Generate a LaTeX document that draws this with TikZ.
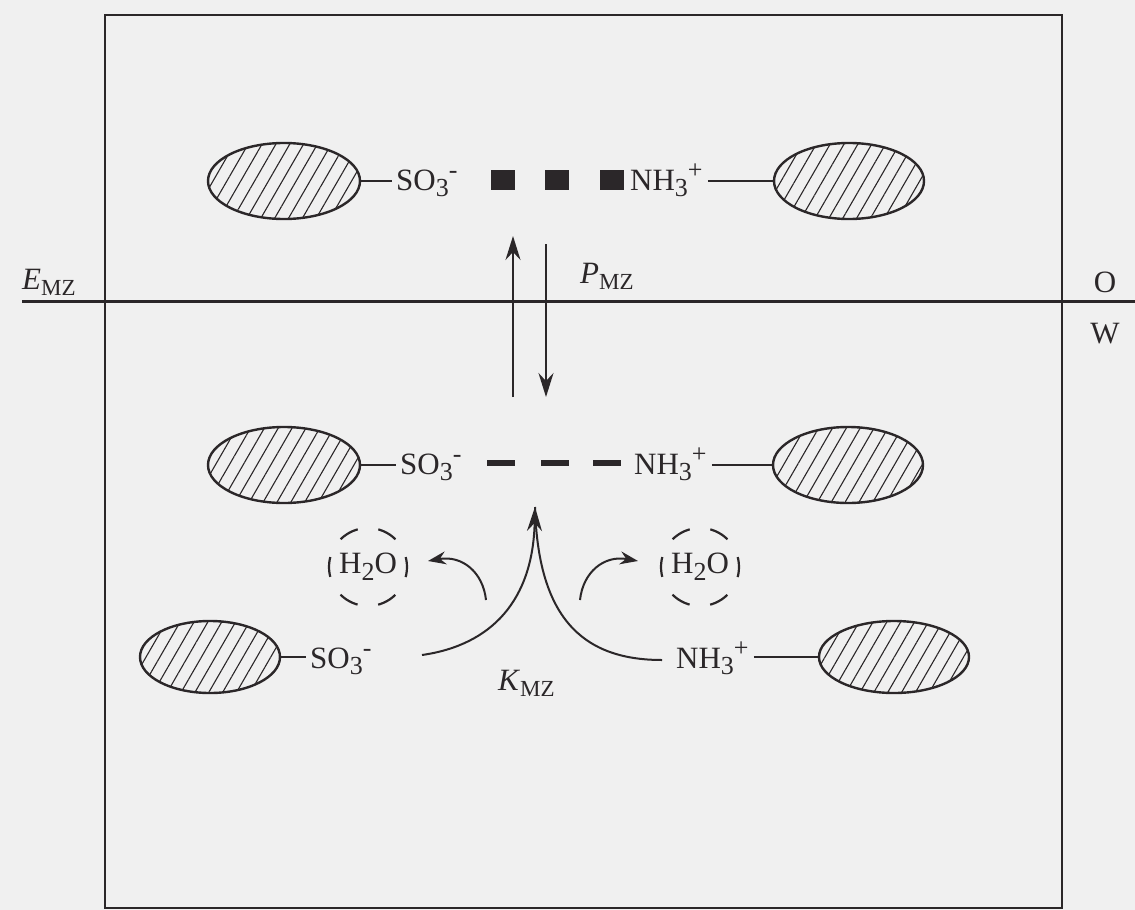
\documentclass[tikz,border=0pt]{standalone}
\usepackage{fontspec}
\setmainfont{Liberation Serif}
\usetikzlibrary{shapes.geometric,patterns.meta,arrows.meta}

\definecolor{paper}{HTML}{F0F0F0}
\definecolor{ink}{HTML}{2B2729}

% lowered and raised indices in the running text
\newcommand\lowtxt[1]{\raisebox{-0.22em}{\fontsize{26}{28}\selectfont #1}}
\newcommand\hightxt[1]{\raisebox{0.36em}{\fontsize{26}{28}\selectfont #1}}
\newcommand\idx[1]{\raisebox{-0.20em}{\fontsize{23}{24}\selectfont #1}}

\begin{document}
\begin{tikzpicture}[x=1pt,y=-1pt,
  lab/.style={font=\fontsize{31}{35}\selectfont, text=ink, inner sep=0pt},
  blob/.style={ellipse, draw=ink, line width=2.4pt, inner sep=0pt,
    minimum width=152pt, minimum height=76pt,
    pattern={Lines[angle=60,distance=12pt,line width=1.1pt]}, pattern color=ink},
  stub/.style={draw=ink, line width=2pt},
  frame/.style={draw=ink, line width=2.6pt},
  bar/.style={draw=ink, line width=3pt},
  bond/.style={fill=ink, inner sep=0pt, minimum width=24pt, minimum height=20pt},
  weak/.style={fill=ink, inner sep=0pt, minimum width=28pt, minimum height=6pt},
  water/.style={circle, draw=ink, line width=2.2pt, minimum size=78pt, inner sep=0pt,
    dash pattern=on 20pt off 20.8pt, dash phase=10pt},
  flow/.style={draw=ink, line width=2pt, -{Stealth[length=24pt,width=15pt,inset=8pt]}},
  turn/.style={draw=ink, line width=2pt, -{Stealth[length=18pt,width=13pt,inset=6pt]}},
  tail/.style={draw=ink, line width=2pt}
]
\fill[paper] (0,0) rectangle (1135,910);
\useasboundingbox (0,0) rectangle (1135,910);

% frame and interface
\draw[frame] (105,15) rectangle (1062,908);
\draw[bar] (22,301) -- (1135,301);
\node[lab, anchor=base west] (emz) at (22,289) {\textit{E}\idx{MZ}};
\node[lab, anchor=base] (oil) at (1105,292) {O};
\node[lab, anchor=base] (wat) at (1105,343) {W};

% upper row: strong ion pair in the oil phase
\node[blob] (a1) at (284,181) {};
\node[lab, anchor=base west] (a2) at (396,190) {SO\lowtxt{3}\hightxt{-}};
\node[bond] (q1) at (503,180) {};
\node[bond] (q2) at (557,180) {};
\node[bond] (q3) at (612,180) {};
\node[lab, anchor=base west] (a3) at (630,190) {NH\lowtxt{3}\hightxt{+}};
\node[blob, minimum width=150pt] (a4) at (849,181) {};
\draw[stub] (a1.east) -- ([xshift=-4pt]a1.east -| a2.west);
\draw[stub] ([xshift=5pt]a3.east |- a4.west) -- (a4.west);

% transfer across the interface
\coordinate (u0) at (513,397);
\coordinate (u1) at (513,236);
\coordinate (d0) at (546,244);
\coordinate (d1) at (546,397);
\draw[flow] (u0) -- (u1);
\draw[flow] (d0) -- (d1);
\node[lab, anchor=base west] (pmz) at (580,283) {\textit{P}\idx{MZ}};

% middle row: weak ion pair in water
\node[blob] (b1) at (284,465) {};
\node[lab, anchor=base west] (b2) at (400,474) {SO\lowtxt{3}\hightxt{-}};
\node[weak] (r1) at (501,463) {};
\node[weak] (r2) at (555,463) {};
\node[weak] (r3) at (607,463) {};
\node[lab, anchor=base west] (b3) at (634,474) {NH\lowtxt{3}\hightxt{+}};
\node[blob, minimum width=150pt] (b4) at (848,465) {};
\draw[stub] (b1.east) -- ([xshift=-4pt]b1.east -| b2.west);
\draw[stub] ([xshift=5pt]b3.east |- b4.west) -- (b4.west);

% released water
\node[water, lab] (h1) at (368,567) {H\lowtxt{2}O};
\node[water, lab] (h2) at (700,567) {H\lowtxt{2}O};

% lower row: free ions
\node[blob, minimum width=140pt, minimum height=72pt] (c1) at (210,657) {};
\node[lab, anchor=base west] (c2) at (310,668) {SO\lowtxt{3}\hightxt{-}};
\node[lab, anchor=base west] (c3) at (676,668) {NH\lowtxt{3}\hightxt{+}};
\node[blob, minimum width=150pt, minimum height=72pt] (c4) at (894,657) {};
\draw[stub] (c1.east) -- ([xshift=-4pt]c1.east -| c2.west);
\draw[stub] ([xshift=5pt]c3.east |- c4.west) -- (c4.west);
\node[lab, anchor=base west] (kmz) at (498,690) {\textit{K}\idx{MZ}};

% association paths
\coordinate (apex) at (535,507);
\coordinate (sL) at (422,655);
\coordinate (sR) at (662,660);
\draw[tail] (sR) .. controls (580,660) and (538,615) .. (apex);
\draw[flow] (sL) .. controls (492,645) and (533,600) .. (apex);

% dehydration arrows
\coordinate (wL0) at (486,600);
\coordinate (wL1) at (428,561);
\coordinate (wR0) at (580,600);
\coordinate (wR1) at (638,561);
\draw[turn] (wL0) .. controls (483,572) and (462,555) .. (wL1);
\draw[turn] (wR0) .. controls (583,572) and (604,555) .. (wR1);
\end{tikzpicture}
\end{document}
